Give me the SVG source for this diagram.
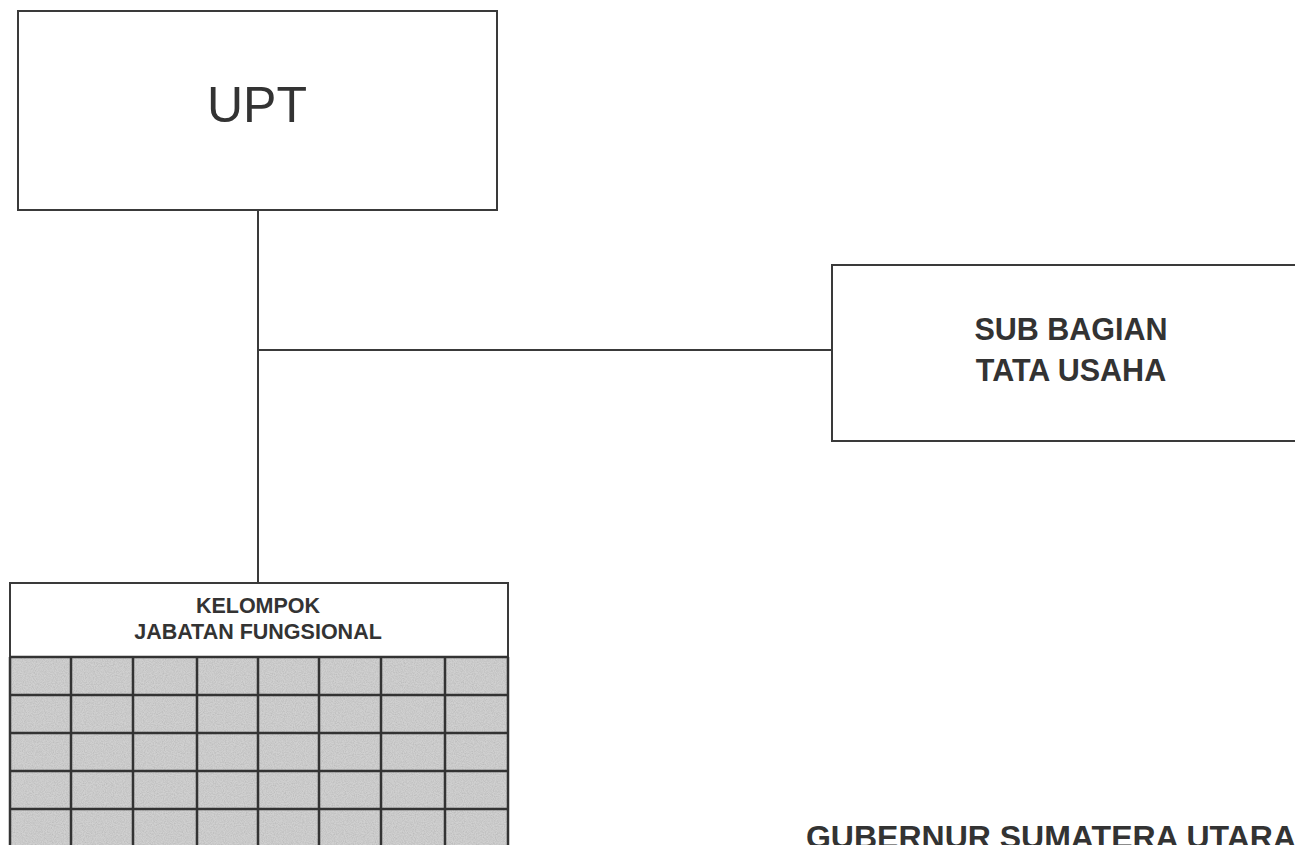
<svg xmlns="http://www.w3.org/2000/svg" width="1295" height="845" viewBox="0 0 1295 845">
<style>
.box{fill:#ffffff;stroke:#3a3a3a;stroke-width:2}
.ln{stroke:#3a3a3a;stroke-width:2;fill:none}
.grid{stroke:#333333;stroke-width:2.5;fill:none}
.t{font-family:"Liberation Sans",Arial,sans-serif;fill:#333333;text-anchor:middle}
.b{font-weight:bold}
</style>
<defs>
<filter id="noise" x="0" y="0" width="100%" height="100%">
<feTurbulence type="fractalNoise" baseFrequency="0.9" numOctaves="2" seed="3" result="n"/>
<feColorMatrix in="n" type="matrix" values="0 0 0 0 0.5  0 0 0 0 0.5  0 0 0 0 0.5  0 0 0 1.8 -0.6" result="g"/>
<feComposite in="g" in2="SourceGraphic" operator="in" result="gc"/>
<feMerge><feMergeNode in="SourceGraphic"/><feMergeNode in="gc"/></feMerge>
</filter>
</defs>
<rect width="1295" height="845" fill="#ffffff"/>
<g id="connectors">
<line class="ln" x1="258" y1="210" x2="258" y2="583"/>
<line class="ln" x1="258" y1="350" x2="832" y2="350"/>
</g>
<g id="upt">
<rect class="box" x="18" y="11" width="479" height="199"/>
<text class="t" x="257" y="122" font-size="50">UPT</text>
</g>
<g id="sub-bagian">
<rect class="box" x="832" y="265" width="470" height="176"/>
<text class="t b" x="1071" y="340" font-size="30.5">SUB BAGIAN</text>
<text class="t b" x="1071" y="381" font-size="30.5">TATA USAHA</text>
</g>
<g id="kelompok">
<rect x="10" y="657" width="498" height="195" fill="#d0d0d0" filter="url(#noise)"/>
<rect class="box" x="10" y="583" width="498" height="74"/>
<text class="t b" x="258" y="613" font-size="21.5">KELOMPOK</text>
<text class="t b" x="258" y="639" font-size="21.5">JABATAN FUNGSIONAL</text>
<path class="grid" d="M10 657V850M71 657V850M133 657V850M197 657V850M258 657V850M319 657V850M381 657V850M445 657V850M508 657V850M10 657H508M10 695H508M10 733H508M10 771H508M10 809H508"/>
</g>
<g id="footer">
<text class="t b" x="1051" y="848" font-size="32">GUBERNUR SUMATERA UTARA</text>
</g>
</svg>
